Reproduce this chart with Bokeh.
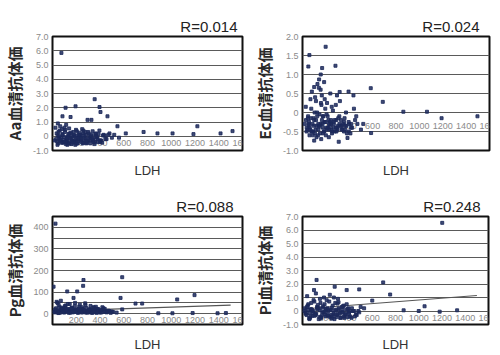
from bokeh.plotting import figure
from bokeh.layouts import column, row
from bokeh.models import FixedTicker, Range1d
from bokeh.core.properties import value
from bokeh.embed import file_html
from bokeh.resources import INLINE

# ---------------- data ----------------
x_tick_vals = [200, 400, 600, 800, 1000, 1200, 1400, 1600]
x_tick_text = ["200", "400", "600", "800", "1000", "1200", "1400", "1600"]

aa_ldh = [75, 355, 110, 194, 396, 404, 463, 84, 152, 295,
          328, 547, 1220, 1516, 767, 884, 1011, 1187, 1415, 617,
          20, 35, 48, 60, 72, 85, 95, 105, 118, 130,
          142, 155, 168, 180, 192, 205, 218, 230, 245, 258,
          270, 285, 300, 315, 330, 345, 360, 378, 395, 410,
          430, 455, 480, 25, 42, 55, 68, 80, 92, 108,
          122, 135, 148, 160, 175, 188, 200, 212, 225, 238,
          250, 265, 280, 292, 305, 320, 338, 352, 370, 388,
          405, 425, 445, 470, 500, 30, 50, 65, 88, 100,
          115, 128, 140, 165, 185, 198, 210, 235, 255, 275,
          310, 340, 365, 400, 440, 520, 560, 45, 125, 260,
          38, 58, 78, 98, 118, 138, 158, 178, 198, 218,
          238, 258, 278, 298, 318, 338, 358, 378, 398, 418,
          44, 64, 84, 104, 124, 144, 164, 184, 204, 224,
          244, 264, 284, 304, 324, 344, 364, 384, 112, 172]
aa_val = [5.85, 2.6, 2.0, 2.1, 2.05, 1.7, 1.4, 1.4, 1.35, 1.15,
          1.15, 0.7, 0.7, 0.36, 0.3, 0.2, 0.2, 0.15, 0.2, 0.2,
          -0.3, 0.2, -0.5, 0.4, -0.1, 0.1, -0.4, 0.3, -0.2, 0.0,
          -0.5, 0.25, -0.3, 0.1, -0.6, 0.35, -0.2, 0.05, -0.4, 0.2,
          -0.1, -0.5, 0.3, -0.3, 0.0, -0.4, 0.15, -0.2, 0.4, -0.3,
          0.1, -0.2, 0.2, 0.6, -0.6, 0.0, -0.35, 0.5, -0.25, 0.45,
          -0.45, 0.15, -0.1, -0.55, 0.3, -0.3, 0.05, -0.5, 0.25, -0.15,
          0.5, -0.35, 0.1, -0.45, 0.2, -0.1, 0.35, -0.55, 0.0, 0.15,
          -0.3, 0.05, -0.2, 0.1, -0.1, -0.2, 0.3, 0.7, -0.45, 0.6,
          0.8, -0.3, 0.55, 0.0, -0.4, 0.45, -0.2, 0.1, -0.5, 0.3,
          0.0, -0.25, 0.2, -0.4, 0.05, 0.1, -0.1, 0.9, -0.6, 0.4,
          -0.35, -0.15, -0.45, -0.05, -0.3, -0.5, -0.2, -0.4, -0.1, -0.35,
          -0.25, -0.45, -0.15, -0.3, -0.5, -0.2, -0.4, -0.1, -0.3, -0.45,
          0.05, -0.25, 0.15, -0.4, -0.1, 0.2, -0.3, 0.0, -0.5, 0.1,
          -0.15, 0.05, -0.35, -0.2, 0.1, -0.3, -0.05, -0.4, -0.55, -0.45]

ec_ldh = [198, 59, 50, 168, 282, 156, 142, 100, 584, 687,
          318, 394, 436, 863, 1190, 1497, 1065, 100, 310, 385,
          587, 20, 35, 48, 62, 75, 88, 100, 112, 125,
          138, 150, 162, 175, 188, 200, 215, 230, 245, 260,
          275, 290, 305, 320, 340, 360, 380, 400, 425, 450,
          28, 42, 55, 68, 82, 95, 108, 120, 132, 145,
          158, 170, 182, 195, 208, 222, 238, 252, 268, 285,
          300, 315, 335, 355, 372, 395, 415, 440, 470, 500,
          30, 52, 70, 90, 115, 135, 155, 178, 205, 235,
          265, 295, 330, 365, 410, 460, 520, 80, 128, 190,
          140, 165, 185, 210, 250, 120, 160, 60, 225, 290,
          36, 56, 76, 96, 116, 136, 156, 176, 196, 216,
          236, 256, 276, 296, 316, 336, 356, 376, 396, 416,
          46, 66, 86, 106, 126, 146, 166, 186, 206, 226,
          246, 266, 286, 306, 326, 346, 366, 104, 174, 244]
ec_val = [1.73, 1.51, 1.21, 1.17, 1.23, 1.0, 0.87, 0.67, 0.64, 0.28,
          0.54, 0.55, 0.45, 0.02, -0.15, -0.1, 0.02, -0.74, -0.77, -0.67,
          -0.54, -0.3, -0.5, -0.1, -0.4, 0.1, -0.6, -0.2, -0.45, 0.0,
          -0.35, -0.55, 0.2, -0.4, -0.25, -0.6, -0.1, -0.45, -0.3, 0.05,
          -0.5, -0.2, -0.35, 0.3, -0.45, -0.15, -0.55, -0.3, -0.4, -0.2,
          0.15, -0.45, -0.25, 0.35, -0.5, -0.15, 0.4, -0.35, -0.6, -0.05,
          0.25, -0.3, -0.5, 0.1, -0.4, -0.2, 0.5, -0.55, -0.3, 0.2,
          -0.45, -0.1, -0.35, -0.5, 0.0, -0.25, -0.4, 0.1, -0.3, -0.45,
          -0.2, -0.35, -0.15, -0.5, 0.3, -0.3, 0.6, -0.1, -0.45, -0.25,
          -0.4, 0.45, -0.2, -0.35, -0.55, -0.1, -0.3, 0.55, 0.75, 0.35,
          0.65, 0.45, 0.8, 0.25, 0.15, -0.65, -0.7, -0.6, -0.65, -0.5,
          -0.4, -0.3, -0.5, -0.35, -0.2, -0.45, -0.3, -0.55, -0.25, -0.4,
          -0.35, -0.5, -0.2, -0.4, -0.3, -0.45, -0.25, -0.35, -0.5, -0.3,
          -0.15, -0.45, -0.3, -0.55, -0.1, -0.35, -0.2, -0.5, -0.05, -0.3,
          -0.45, -0.25, -0.4, -0.15, -0.35, -0.3, -0.45, 0.0, -0.1, -0.2]

pg_ldh = [25, 261, 258, 587, 124, 208, 9, 573, 1050, 1196,
          699, 755, 177, 42, 891, 1010, 1180, 1390, 1460, 587,
          15, 30, 45, 60, 75, 90, 105, 120, 135, 150,
          165, 180, 195, 210, 225, 240, 255, 270, 285, 300,
          315, 330, 345, 360, 375, 390, 410, 430, 455, 480,
          22, 38, 52, 68, 82, 98, 112, 128, 142, 158,
          172, 188, 202, 218, 232, 248, 262, 278, 292, 308,
          322, 338, 352, 368, 385, 400, 420, 445, 470, 510,
          35, 70, 110, 145, 190, 230, 275, 320, 365, 420,
          55, 95, 140, 185, 250, 310, 380, 440, 500, 540,
          18, 40, 62, 84, 106, 128, 150, 172, 194, 216,
          238, 260, 282, 304, 326, 348, 370, 392, 414, 436,
          28, 50, 72, 94, 116, 138, 160, 182, 204, 226,
          248, 270, 292, 314, 336, 358, 380, 402, 458, 490]
pg_val = [417, 156, 129, 169, 103, 103, 125, 73, 66, 86,
          47, 47, 73, 50, 2, 2, 3, 2, 3, 20,
          10, 25, 5, 30, 15, 8, 35, 12, 20, 5,
          28, 10, 18, 6, 32, 14, 22, 8, 26, 12,
          18, 5, 30, 10, 22, 8, 15, 25, 6, 12,
          20, 8, 40, 15, 28, 5, 18, 45, 10, 24,
          6, 35, 14, 22, 8, 30, 12, 40, 5, 20,
          16, 8, 28, 12, 22, 5, 18, 10, 14, 8,
          55, 60, 38, 45, 50, 42, 48, 36, 32, 30,
          12, 25, 8, 16, 20, 6, 14, 22, 10, 5,
          6, 14, 4, 18, 9, 22, 7, 12, 16, 4,
          10, 20, 5, 14, 8, 18, 4, 12, 6, 9,
          15, 3, 22, 9, 16, 4, 26, 8, 12, 18,
          5, 14, 9, 20, 4, 11, 7, 16, 9, 4]

pi_ldh = [1202, 121, 694, 488, 754, 99, 277, 380, 1050, 600,
          870, 1000, 1180, 1330, 20, 35, 50, 65, 80, 95,
          110, 125, 140, 155, 170, 185, 200, 215, 230, 245,
          260, 275, 290, 305, 320, 340, 360, 380, 400, 425,
          450, 480, 28, 45, 58, 72, 88, 102, 118, 132,
          148, 162, 178, 192, 208, 222, 238, 252, 268, 282,
          298, 312, 328, 348, 368, 390, 410, 435, 460, 500,
          40, 75, 115, 150, 190, 235, 270, 310, 355, 530,
          60, 90, 130, 165, 200, 250, 300, 345, 395, 15,
          26, 48, 70, 92, 114, 136, 158, 180, 202, 224,
          246, 268, 290, 312, 334, 356, 378, 400, 422, 444,
          38, 60, 82, 104, 126, 148, 170, 192, 214, 236,
          258, 280, 302, 324, 346, 368, 390, 412, 466, 488]
pi_val = [6.53, 2.3, 2.12, 1.6, 1.22, 1.55, 1.8, 1.55, 0.35, 0.77,
          0.05, 0.0, -0.05, 0.05, 0.2, -0.3, 0.5, -0.5, 0.1, 0.8,
          -0.2, 0.3, -0.6, 0.6, -0.1, 1.0, -0.4, 0.2, 0.7, -0.3,
          0.4, -0.6, 0.1, 0.9, -0.2, 0.3, -0.5, 0.5, -0.1, 0.2,
          -0.4, 0.0, -0.1, 0.4, -0.55, 0.15, -0.35, 0.7, -0.2, 0.45,
          0.05, -0.5, 0.35, -0.25, 0.8, 0.0, -0.45, 0.25, -0.15, 0.6,
          -0.3, 0.1, -0.5, 0.35, -0.2, 0.15, -0.4, 0.0, -0.25, 0.3,
          1.1, 0.6, 1.3, 0.9, 0.5, 1.2, 1.0, 0.65, 0.4, 0.2,
          -0.6, -0.15, 0.25, -0.35, 0.1, -0.55, 0.55, -0.1, 0.2, 0.0,
          -0.2, 0.1, -0.4, 0.0, -0.3, 0.2, -0.5, -0.1, 0.15, -0.35,
          0.05, -0.25, -0.45, 0.2, -0.1, -0.4, 0.1, -0.2, -0.5, 0.0,
          0.3, -0.15, 0.05, -0.35, 0.15, -0.45, 0.25, -0.05, -0.3, 0.1,
          -0.4, 0.05, -0.2, -0.5, 0.1, -0.25, -0.45, 0.0, -0.3, -0.1]

pg_fit_x = [0, 1500]
pg_fit_y = [12, 40]
pi_fit_x = [0, 1500]
pi_fit_y = [0.15, 1.15]

y7_ticks = [-1, 0, 1, 2, 3, 4, 5, 6, 7]
y7_labels = ["-1.0", "0", "1.0", "2.0", "3.0", "4.0", "5.0", "6.0", "7.0"]
y2_ticks = [-1, -0.5, 0, 0.5, 1, 1.5, 2]
y2_labels = ["-1.0", "-0.5", "0", "0.5", "1.0", "1.5", "2.0"]
pg_ticks = [0, 100, 200, 300, 400]
pg_labels = ["0", "100", "200", "300", "400"]
pg_grid = [0, 50, 100, 150, 200, 250, 300, 350, 400]

titles = ["R=0.014", "R=0.024", "R=0.088", "R=0.248"]
ylabels = ["Aa血清抗体価", "Ec血清抗体価", "Pg血清抗体価", "Pi血清抗体価"]

DOT = "#1d2a5c"
JP = "Noto Sans CJK JP"
LAT = "Liberation Sans"


def panel(ldh, vals, title, ylabel, yr, yticks, ylabels_, grid, xly, h,
          bl, br, bt, bb, xls, toff, fit=None):
    p = figure(width=250, height=h, output_backend="svg", toolbar_location=None,
               x_range=Range1d(0, 1600), y_range=Range1d(*yr),
               min_border_left=bl, min_border_right=br, min_border_top=bt,
               min_border_bottom=bb)
    p.title.text = title
    p.title.align = "right"
    p.title.text_font = LAT
    p.title.text_font_size = "15px"
    p.title.text_font_style = "normal"
    p.title.text_color = "#222222"
    p.title.offset = toff
    p.title.standoff = 4
    p.outline_line_color = "#111111"
    p.outline_line_width = 2
    p.xgrid.visible = False
    p.ygrid.ticker = FixedTicker(ticks=grid)
    p.ygrid.grid_line_color = "#5a5a5a"
    p.ygrid.grid_line_width = 1

    p.xaxis.ticker = FixedTicker(ticks=[])
    p.xaxis.axis_line_color = None
    p.xaxis.major_tick_line_color = None
    p.xaxis.minor_tick_line_color = None
    p.xaxis.major_tick_out = 0
    p.xaxis.major_tick_in = 0
    p.xaxis.major_label_standoff = 0
    p.xaxis.axis_label = "LDH"
    p.xaxis.axis_label_text_font = LAT
    p.xaxis.axis_label_text_font_size = "13px"
    p.xaxis.axis_label_text_font_style = "normal"
    p.xaxis.axis_label_text_color = "#333333"
    p.xaxis.axis_label_standoff = xls

    p.yaxis.ticker = FixedTicker(ticks=yticks)
    p.yaxis.major_label_overrides = {t: l for t, l in zip(yticks, ylabels_)}
    p.yaxis.axis_line_color = None
    p.yaxis.major_tick_line_color = None
    p.yaxis.minor_tick_line_color = None
    p.yaxis.major_tick_out = 0
    p.yaxis.major_label_text_font = LAT
    p.yaxis.major_label_text_font_size = "9px"
    p.yaxis.major_label_text_color = "#8a8a8a"
    p.yaxis.major_label_standoff = 4
    p.yaxis.axis_label = ylabel
    p.yaxis.axis_label_text_font = JP
    p.yaxis.axis_label_text_font_size = "15px"
    p.yaxis.axis_label_text_font_style = "bold"
    p.yaxis.axis_label_text_color = "#2a2a2a"
    p.yaxis.axis_label_standoff = 5

    p.text(x=x_tick_vals, y=[xly] * len(x_tick_vals), text=x_tick_text,
           text_font=value(LAT), text_font_size=value("9px"), text_color="#8a8a8a",
           text_align="center", text_baseline="middle")
    if fit is not None:
        p.line(x=fit[0], y=fit[1], line_color="#555555", line_width=1.2)
    p.scatter(x=ldh, y=vals, marker="square", size=3, fill_color=DOT,
              line_color=DOT, alpha=0.85)
    return p


p1 = panel(aa_ldh, aa_val, titles[0], ylabels[0], (-1, 7), y7_ticks, y7_labels, y7_ticks,
           -0.5, 180, 52, 8, 35, 27, 12, 5)
p2 = panel(ec_ldh, ec_val, titles[1], ylabels[1], (-1, 2), y2_ticks, y2_labels, y2_ticks,
           -0.35, 180, 48, 11, 36, 27, 12, 10)
p3 = panel(pg_ldh, pg_val, titles[2], ylabels[2], (-50, 450), pg_ticks, pg_labels, pg_grid,
           -28, 175, 52, 8, 28, 31, 12, 9, fit=(pg_fit_x, pg_fit_y))
p4 = panel(pi_ldh, pi_val, titles[3], ylabels[3], (-1, 7), y7_ticks, y7_labels, y7_ticks,
           -0.5, 175, 49, 12, 36, 26, 12, 8, fit=(pi_fit_x, pi_fit_y))

layout = column(row(p1, p2), row(p3, p4))
open("out.html", "w").write(file_html(layout, INLINE))
